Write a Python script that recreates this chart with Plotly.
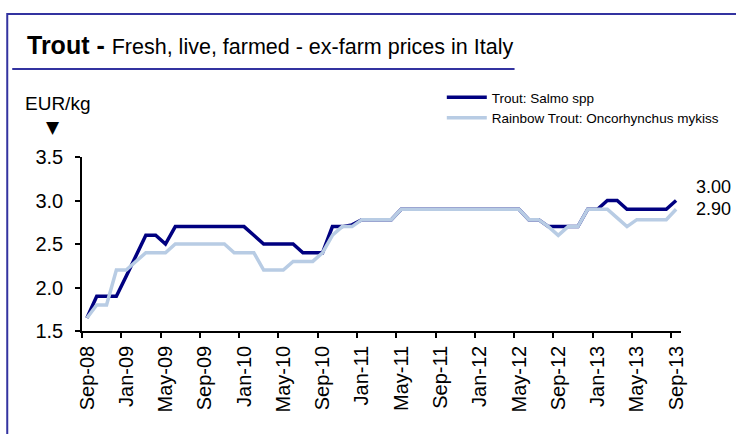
import plotly.graph_objects as go

# ---- data -------------------------------------------------------------
months_idx = list(range(61))  # Sep-08 ... Sep-13, monthly categories
tick_labels = ["Sep-08", "Jan-09", "May-09", "Sep-09", "Jan-10", "May-10",
               "Sep-10", "Jan-11", "May-11", "Sep-11", "Jan-12", "May-12",
               "Sep-12", "Jan-13", "May-13", "Sep-13"]
tick_months = list(range(0, 61, 4))

salmo = [1.65, 1.9, 1.9, 1.9, 2.13, 2.37, 2.6, 2.6, 2.5, 2.7,
         2.7, 2.7, 2.7, 2.7, 2.7, 2.7, 2.7, 2.6, 2.5, 2.5,
         2.5, 2.5, 2.4, 2.4, 2.4, 2.7, 2.7, 2.72, 2.78, 2.78,
         2.78, 2.78, 2.9, 2.9, 2.9, 2.9, 2.9, 2.9, 2.9, 2.9,
         2.9, 2.9, 2.9, 2.9, 2.9, 2.78, 2.78, 2.7, 2.7, 2.7,
         2.7, 2.9, 2.9, 3.0, 3.0, 2.9, 2.9, 2.9, 2.9, 2.9,
         3.0]
rainbow = [1.65, 1.8, 1.8, 2.2, 2.2, 2.3, 2.4, 2.4, 2.4, 2.5,
           2.5, 2.5, 2.5, 2.5, 2.5, 2.4, 2.4, 2.4, 2.2, 2.2,
           2.2, 2.3, 2.3, 2.3, 2.4, 2.6, 2.7, 2.7, 2.78, 2.78,
           2.78, 2.78, 2.9, 2.9, 2.9, 2.9, 2.9, 2.9, 2.9, 2.9,
           2.9, 2.9, 2.9, 2.9, 2.9, 2.78, 2.78, 2.7, 2.6, 2.7,
           2.7, 2.9, 2.9, 2.9, 2.8, 2.7, 2.78, 2.78, 2.78, 2.78,
           2.9]
series_names = ["Trout: Salmo spp", "Rainbow Trout: Oncorhynchus mykiss"]
last_labels = ["3.00", "2.90"]

# ---- layout helpers (pixel -> paper) -----------------------------------
W, H = 736, 434
L, R, T, B = 82, 683, 157, 331


def px(x):
    return (x - L) / (R - L)


def py(y):
    return (B - y) / (B - T)


DARK = "#000080"
LIGHT = "#b8cce4"
FRAME = "#3333a0"
FONT = "Liberation Sans, Arial, sans-serif"

fig = go.Figure()
fig.add_trace(go.Scatter(x=months_idx, y=salmo, mode="lines",
                         name=series_names[0],
                         line=dict(color=DARK, width=3.5)))
fig.add_trace(go.Scatter(x=months_idx, y=rainbow, mode="lines",
                         name=series_names[1],
                         line=dict(color=LIGHT, width=3.5)))

fig.update_layout(
    width=W, height=H,
    margin=dict(l=L, r=W - R, t=T, b=H - B),
    paper_bgcolor="white", plot_bgcolor="white",
    font=dict(family=FONT, color="black"),
    showlegend=True,
    legend=dict(x=px(443), y=py(82), xanchor="left", yanchor="top",
                font=dict(family=FONT, size=13.5, color="black"),
                bgcolor="rgba(0,0,0,0)", tracegroupgap=0,
                itemwidth=40, traceorder="normal"),
)

# category-style axis: ticks on boundaries, labels at category centres
fig.update_xaxes(range=[-0.5, 60.5], tickmode="array",
                 tickvals=[m - 0.5 for m in tick_months], ticktext=tick_labels,
                 ticklabelshift=5,
                 tickangle=-90, ticks="outside", ticklen=5, tickwidth=1.5,
                 tickcolor="black", showline=True, linecolor="black",
                 linewidth=1.5, showgrid=False, zeroline=False,
                 tickfont=dict(size=20, family=FONT, color="black"))
fig.update_yaxes(range=[1.5, 3.5], dtick=0.5, tickformat=".1f",
                 ticks="outside", ticklen=5, tickwidth=1.5,
                 ticklabelstandoff=8,
                 tickcolor="black", showline=True, linecolor="black",
                 linewidth=1.5, showgrid=False, zeroline=False,
                 tickfont=dict(size=20, family=FONT, color="black"))

# frame and title underline
fig.add_shape(type="rect", xref="paper", yref="paper",
              x0=px(7), x1=px(760), y0=py(460), y1=py(14),
              line=dict(color=FRAME, width=2), fillcolor="rgba(0,0,0,0)",
              layer="below")
fig.add_shape(type="line", xref="paper", yref="paper",
              x0=px(12), x1=px(516), y0=py(69), y1=py(69),
              line=dict(color=FRAME, width=2))

fig.add_annotation(xref="paper", yref="paper", x=px(25), y=py(45),
                   xanchor="left", yanchor="middle", showarrow=False,
                   text="<b>Trout - </b><span style='font-size:21.5px'>Fresh, live, farmed - ex-farm prices in Italy</span>",
                   font=dict(family=FONT, size=25, color="black"))
fig.add_annotation(xref="paper", yref="paper", x=px(23), y=py(103),
                   xanchor="left", yanchor="middle", showarrow=False,
                   text="EUR/kg", font=dict(family=FONT, size=19, color="black"))
fig.add_annotation(xref="paper", yref="paper", x=px(53), y=py(127),
                   xanchor="center", yanchor="middle", showarrow=False,
                   text="▼", font=dict(family="DejaVu Sans", size=17, color="black"))

# end-of-series value labels
fig.add_annotation(x=months_idx[-1], y=salmo[-1], xref="x", yref="y",
                   text=last_labels[0], showarrow=False, xanchor="left",
                   yanchor="middle", xshift=18, yshift=14,
                   font=dict(size=18, family=FONT, color="black"))
fig.add_annotation(x=months_idx[-1], y=rainbow[-1], xref="x", yref="y",
                   text=last_labels[1], showarrow=False, xanchor="left",
                   yanchor="middle", xshift=18, yshift=0,
                   font=dict(size=18, family=FONT, color="black"))

fig.write_html("out.html",
               config={"displayModeBar": False},
               post_script="document.body.style.margin='0px';")
